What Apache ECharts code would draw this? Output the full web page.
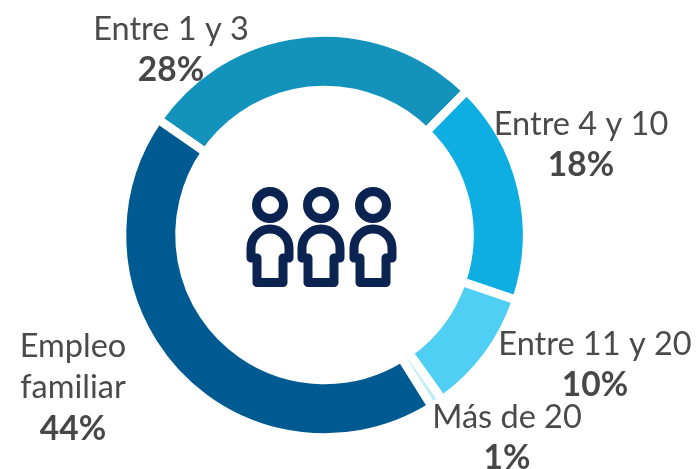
<!DOCTYPE html>
<html><head><meta charset="utf-8">
<style>html,body{margin:0;padding:0;background:#fff}#c{width:700px;height:469px}</style>
<script src="https://cdn.jsdelivr.net/npm/echarts@6/dist/echarts.min.js"></script>
</head><body><div id="c"></div>
<script>
const categories = ['Entre 1 y 3', 'Entre 4 y 10', 'Entre 11 y 20', 'Más de 20', 'Empleo\nfamiliar'];
const values = [28, 18, 10, 1, 44];
const percentLabels = ['28%', '18%', '10%', '1%', '44%'];
const colors = ['#1393BC', '#0EAEE3', '#4FCFF3', '#BDEBF8', '#005A92'];
const labelPos = [[171, 50], [581, 145], [595, 365], [507, 438], [73, 388]];

const chart = echarts.init(document.getElementById('c'), null, {renderer: 'canvas'});
const heads = [270, 321, 373];
const iconColor = '#0B2351';
const graphic = [];
const stroke = {fill: 'none', stroke: iconColor, lineWidth: 9, lineJoin: 'round'};
heads.forEach(x => {
  graphic.push({type: 'circle', silent: true, shape: {cx: x, cy: 205, r: 13.5}, style: stroke});
  graphic.push({type: 'arc', silent: true, shape: {cx: x, cy: 248, r: 19, startAngle: Math.PI, endAngle: 2 * Math.PI, clockwise: true}, style: stroke});
  graphic.push({type: 'polyline', silent: true, shape: {points: [
    [x - 19, 248], [x - 19, 258], [x - 13, 258], [x - 13, 282.5],
    [x + 13, 282.5], [x + 13, 258], [x + 19, 258], [x + 19, 248]
  ]}, style: stroke});
});

chart.setOption({
  animation: false,
  backgroundColor: '#fff',
  graphic,
  series: [{
    type: 'pie',
    center: [324.5, 235],
    radius: [145, 202.5],
    startAngle: 145.2,
    clockwise: true,
    avoidLabelOverlap: false,
    silent: true,
    itemStyle: {borderColor: '#fff', borderWidth: 8.5},
    labelLine: {show: false},
    label: {
      show: true, position: 'outside', overflow: 'none', align: 'center',
      formatter: p => `{n|${p.name}}\n{v|${percentLabels[p.dataIndex]}}`,
      rich: {
        n: {fontFamily: 'Lato', fontSize: 32.5, color: '#4A4A4A', lineHeight: 41, align: 'center'},
        v: {fontFamily: 'Lato', fontSize: 33.5, fontWeight: 'bold', color: '#474747', lineHeight: 41, align: 'center'}
      }
    },
    labelLayout: p => ({x: labelPos[p.dataIndex][0], y: labelPos[p.dataIndex][1], align: 'center', verticalAlign: 'middle'}),
    data: categories.map((name, i) => ({name, value: values[i], itemStyle: {color: colors[i]}}))
  }]
});
</script></body></html>
